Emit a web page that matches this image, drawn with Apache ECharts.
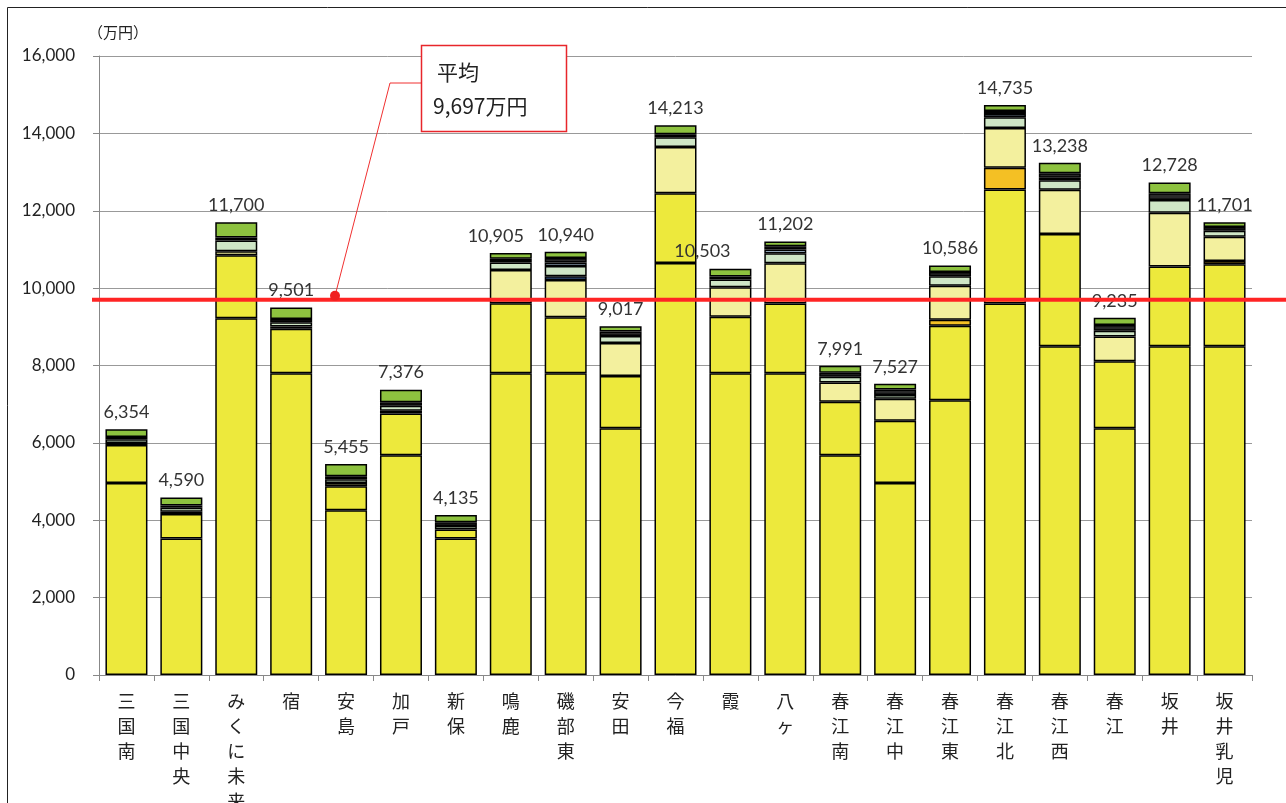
<!DOCTYPE html>
<html><head><meta charset="utf-8">
<script src="https://cdn.jsdelivr.net/npm/echarts@6/dist/echarts.min.js"></script>
<style>html,body{margin:0;padding:0;background:#fff;}#c{width:1286px;height:803px;}</style>
</head><body><div id="c"></div>
<script>
const categories = ['三国南','三国中央','みくに未来','宿','安島','加戸','新保','鳴鹿','磯部東','安田','今福','霞','八ヶ','春江南','春江中','春江東','春江北','春江西','春江','坂井','坂井乳児'];
const totals = [6354,4590,11700,9501,5455,7376,4135,10905,10940,9017,14213,10503,11202,7991,7527,10586,14735,13238,9235,12728,11701];
const average = 9697;
const yTicks = [0,2000,4000,6000,8000,10000,12000,14000,16000];
// segment arrays (bottom to top)
const seg1   = [4960,3530,9220,7800,4260,5680,3530,7800,7800,6380,10650,7800,7800,5680,4960,7100,9600,8500,6380,8500,8500];
const seg2   = [985,630,1630,1150,620,1080,230,1810,1450,1350,1800,1460,1800,1380,1610,1930,2950,2900,1730,2060,2120];
const orange = [0,0,0,0,0,0,0,0,0,0,0,0,0,0,0,150,560,0,0,0,80];
const lightY = [50,60,100,60,80,70,0,860,960,850,1200,760,1040,500,570,880,1030,1140,640,1390,630];
const blue   = [0,0,0,0,0,0,0,0,100,0,0,0,0,0,0,0,0,0,0,0,0];
const lightG = [100,100,280,110,100,130,90,190,260,180,250,200,260,150,100,250,280,250,150,330,150];
const lightB = [0,0,0,0,0,0,0,40,90,0,0,0,100,0,0,0,80,60,0,0,0];
const dark   = [60,60,80,80,80,90,100,60,120,120,80,80,80,100,140,110,80,120,150,170,100];
const green  = [199,210,390,301,315,326,185,145,160,137,233,203,122,181,147,166,155,268,185,278,121];

const labelShift = {7:-15, 11:-28};

const chart = echarts.init(document.getElementById('c'));
const nz = a => a.map(v => v === 0 ? '-' : v);
const segs = [
  ['y1', seg1, '#EDE93C'],
  ['y2', seg2, '#EDE93C'],
  ['or', orange, '#F4C024'],
  ['ly', lightY, '#F3F09E'],
  ['bl', blue, '#4A74B8'],
  ['lg', lightG, '#CFE6C6'],
  ['lb', lightB, '#BDD7EE'],
  ['k', dark, '#2a2a2a'],
  ['gr', green, '#8DC23F']
];
const series = segs.map(([name, arr, color], si) => {
  const isTop = si === segs.length - 1;
  return {
    name, type: 'bar', stack: 'all', barWidth: 42,
    itemStyle: {color, borderColor: '#000', borderWidth: 1.5},
    data: nz(arr).map((v, i) => {
      if (!isTop) return v;
      const o = {value: v};
      if (labelShift[i] !== undefined) o.label = {offset: [labelShift[i], 0]};
      return o;
    }),
    label: isTop ? {
      show: true, position: 'top', distance: 8,
      fontFamily: 'Lato', fontSize: 18, color: '#333',
      formatter: p => totals[p.dataIndex].toLocaleString('en-US')
    } : {show: false},
    emphasis: {disabled: true},
    animation: false
  };
});

chart.setOption({
  animation: false,
  grid: {left: 99, right: 34, top: 56, bottom: 128, containLabel: false, outerBoundsMode: 'none'},
  xAxis: {
    type: 'category', data: categories,
    axisLine: {lineStyle: {color: '#888', width: 1}},
    axisTick: {show: true, length: 6, lineStyle: {color: '#888'}},
    axisLabel: {
      interval: 0, margin: 14, fontFamily: 'Noto Sans CJK JP', fontSize: 18, color: '#222',
      lineHeight: 25, verticalAlign: 'top',
      formatter: v => v.split('').join('\n')
    }
  },
  yAxis: {
    type: 'value', min: yTicks[0], max: yTicks[yTicks.length - 1], interval: 2000,
    axisLine: {show: true, lineStyle: {color: '#888'}},
    axisTick: {show: true, length: 6, lineStyle: {color: '#888'}},
    splitLine: {lineStyle: {color: '#999', width: 1}},
    axisLabel: {margin: 24, fontFamily: 'Lato', fontSize: 17, color: '#222',
      formatter: v => v.toLocaleString('en-US')}
  },
  series
});

const yAvg = chart.convertToPixel({yAxisIndex: 0}, average);
chart.setOption({
  graphic: [
    {type: 'rect', shape: {x: 7.5, y: 7.5, width: 1400, height: 1000}, style: {fill: 'none', stroke: '#222', lineWidth: 1}, z: 1},
    {type: 'text', style: {x: 88, y: 32, text: '（万円）', font: '15px "Noto Sans CJK JP"', fill: '#222', textVerticalAlign: 'middle'}},
    {type: 'line', shape: {x1: 92, y1: yAvg, x2: 1290, y2: yAvg}, style: {stroke: '#FF2424', lineWidth: 4}, z: 50},
    {type: 'polyline', shape: {points: [[335, yAvg - 4], [390, 83], [421, 83]]}, style: {stroke: '#F03030', lineWidth: 1, fill: 'none'}, z: 50},
    {type: 'circle', shape: {cx: 335, cy: yAvg - 4, r: 5}, style: {fill: '#F02020'}, z: 51},
    {type: 'rect', shape: {x: 421.5, y: 45.5, width: 145, height: 86}, style: {fill: '#fff', stroke: '#E8262B', lineWidth: 1.5}, z: 52},
    {type: 'text', style: {x: 437, y: 72, text: '平均', font: '21px "Noto Sans CJK JP"', fill: '#222', textVerticalAlign: 'middle'}, z: 53},
    {type: 'text', style: {x: 433, y: 106, text: average.toLocaleString('en-US') + '万円', font: '21px "Noto Sans CJK JP"', fill: '#222', textVerticalAlign: 'middle'}, z: 53}
  ]
});
</script></body></html>
